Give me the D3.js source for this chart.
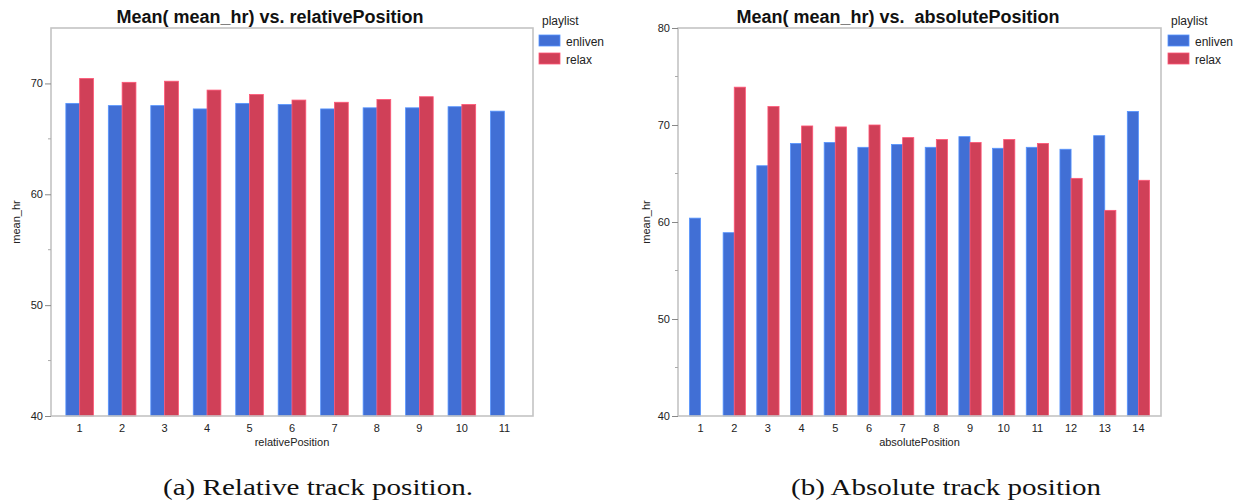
<!DOCTYPE html>
<html>
<head>
<meta charset="utf-8">
<script src="https://cdn.jsdelivr.net/npm/d3@7"></script>
<style>
  body { margin: 0; background: #fff; }
  svg { display: block; }
</style>
</head>
<body>
<svg id="svg" width="1241" height="500"></svg>
<script>
// data
const playlists = ["enliven", "relax"];
const colors = ["#416fd5", "#d04058"];

const relPositions = ["1", "2", "3", "4", "5", "6", "7", "8", "9", "10", "11"];
const relEnliven = [68.2, 68.0, 68.0, 67.7, 68.2, 68.1, 67.7, 67.8, 67.8, 67.9, 67.5];
const relRelax = [70.45, 70.1, 70.2, 69.4, 69.0, 68.5, 68.3, 68.55, 68.8, 68.1, null];

const absPositions = ["1", "2", "3", "4", "5", "6", "7", "8", "9", "10", "11", "12", "13", "14"];
const absEnliven = [60.4, 58.9, 65.8, 68.1, 68.2, 67.7, 68.0, 67.7, 68.8, 67.6, 67.7, 67.5, 68.9, 71.4];
const absRelax = [null, 73.9, 71.9, 69.9, 69.8, 70.0, 68.7, 68.5, 68.2, 68.5, 68.1, 64.5, 61.2, 64.3];

const relTicks = [40, 50, 60, 70];
const relMinor = [45, 55, 65];
const absTicks = [40, 50, 60, 70, 80];
const absMinor = [45, 55, 65, 75];

const svg = d3.select("#svg");
const font = "'Liberation Sans', Arial, sans-serif";

function drawChart(opt) {
    const { left, right, top, bottom } = opt.box;
    const g = svg.append("g");

    const x0 = d3.scaleBand().domain(opt.cats).range([left, right]).padding(opt.pad);
    const x1 = d3.scaleBand().domain(playlists).range([0, x0.bandwidth()]);
    const y = d3.scaleLinear().domain(opt.yDomain).range([bottom, top]);

    const series = [opt.enliven, opt.relax];

    // bars
    series.forEach((vals, si) => {
        g.append("g").selectAll("rect")
            .data(opt.cats.map((c, i) => ({ c, v: vals[i] })).filter(d => d.v != null))
            .join("rect")
            .attr("x", d => x0(d.c) + x1(playlists[si]))
            .attr("y", d => y(d.v))
            .attr("width", x1.bandwidth())
            .attr("height", d => bottom - y(d.v))
            .attr("fill", colors[si])
            .attr("stroke", d3.color(colors[si]).brighter(0.8))
            .attr("stroke-width", 0.8);
    });

    // frame
    g.append("rect")
        .attr("x", left).attr("y", top)
        .attr("width", right - left).attr("height", bottom - top)
        .attr("fill", "none")
        .attr("stroke", "#c4c4c4")
        .attr("stroke-width", 1.6);

    // y axis
    const yAxis = g.append("g")
        .attr("transform", `translate(${left},0)`)
        .call(d3.axisLeft(y).tickValues(opt.yTicks).tickSize(6).tickPadding(2));
    yAxis.select(".domain").remove();
    yAxis.selectAll("line").attr("stroke", "#888");
    yAxis.selectAll("text").attr("font-family", font).attr("font-size", 11).attr("fill", "#222");

    g.append("g").selectAll("line")
        .data(opt.yMinor)
        .join("line")
        .attr("x1", left - 3).attr("x2", left)
        .attr("y1", d => y(d)).attr("y2", d => y(d))
        .attr("stroke", "#aaa");

    // x axis
    const xAxis = g.append("g")
        .attr("transform", `translate(0,${bottom})`)
        .call(d3.axisBottom(x0).tickSize(0).tickPadding(8));
    xAxis.select(".domain").remove();
    xAxis.selectAll("text").attr("font-family", font).attr("font-size", 11).attr("fill", "#222");

    // labels
    g.append("text")
        .attr("x", (left + right) / 2).attr("y", bottom + 30)
        .attr("text-anchor", "middle")
        .attr("font-family", font).attr("font-size", 11).attr("fill", "#222")
        .text(opt.xLabel);

    g.append("text")
        .attr("transform", `translate(${opt.yLabelX},${(top + bottom) / 2}) rotate(-90)`)
        .attr("text-anchor", "middle")
        .attr("font-family", font).attr("font-size", 11).attr("fill", "#222")
        .text("mean_hr");

    g.append("text")
        .attr("x", opt.titleX).attr("y", 23)
        .attr("text-anchor", "middle")
        .attr("font-family", font).attr("font-size", 18).attr("font-weight", "bold")
        .attr("fill", "#111")
        .attr("xml:space", "preserve")
        .text(opt.title);

    // legend
    const lg = g.append("g").attr("transform", `translate(${opt.legendX},0)`);
    lg.append("text")
        .attr("x", 3).attr("y", 25)
        .attr("font-family", font).attr("font-size", 12).attr("fill", "#222")
        .text("playlist");
    playlists.forEach((p, i) => {
        lg.append("rect")
            .attr("x", 0).attr("y", 35 + i * 18)
            .attr("width", 21).attr("height", 11)
            .attr("fill", colors[i])
            .attr("stroke", d3.color(colors[i]).brighter(0.8))
            .attr("stroke-width", 0.8);
        lg.append("text")
            .attr("x", 27).attr("y", 46 + i * 18)
            .attr("font-family", font).attr("font-size", 12).attr("fill", "#222")
            .text(p);
    });

    // caption
    svg.append("text")
        .attr("x", opt.captionX).attr("y", 495)
        .attr("text-anchor", "middle")
        .attr("font-family", "'Liberation Serif', 'DejaVu Serif', serif")
        .attr("font-size", 24)
        .attr("textLength", 310)
        .attr("lengthAdjust", "spacingAndGlyphs")
        .attr("fill", "#111")
        .text(opt.caption);
}

drawChart({
    box: { left: 51, right: 533, top: 28, bottom: 416 },
    cats: relPositions, enliven: relEnliven, relax: relRelax,
    pad: 0.35, yDomain: [40, 75], yTicks: relTicks, yMinor: relMinor,
    xLabel: "relativePosition", yLabelX: 20,
    title: "Mean( mean_hr) vs. relativePosition", titleX: 270,
    legendX: 539,
    caption: "(a) Relative track position.", captionX: 318
});

drawChart({
    box: { left: 678, right: 1161, top: 28, bottom: 416 },
    cats: absPositions, enliven: absEnliven, relax: absRelax,
    pad: 0.34, yDomain: [40, 80], yTicks: absTicks, yMinor: absMinor,
    xLabel: "absolutePosition", yLabelX: 650,
    title: "Mean( mean_hr) vs.  absolutePosition", titleX: 898,
    legendX: 1168,
    caption: "(b) Absolute track position", captionX: 946
});
</script>
</body>
</html>
